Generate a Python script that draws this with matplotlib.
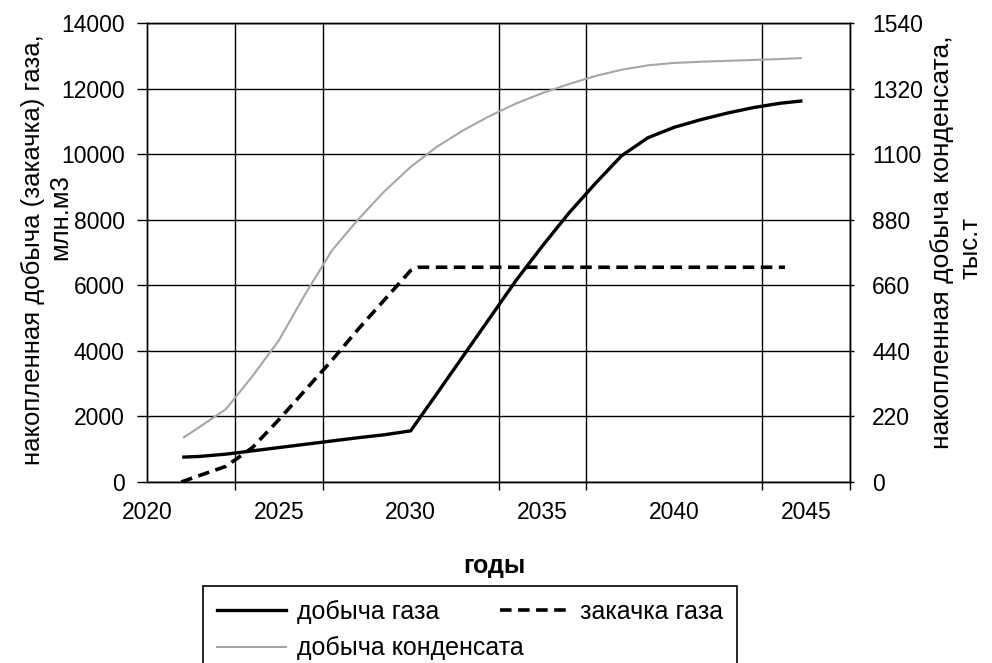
import matplotlib
matplotlib.use("Agg")
import matplotlib.pyplot as plt
import numpy as np

plt.rcParams['font.family'] = ['Liberation Sans', 'DejaVu Sans']

# добыча газа, млн.м3 (left axis)
gas_years = [2021.4, 2022, 2023, 2024, 2025, 2026, 2027, 2028, 2029, 2030,
             2031, 2032, 2033, 2034, 2035, 2036, 2037, 2038, 2039, 2040,
             2041, 2042, 2043, 2044, 2044.8]
gas_prod = [760, 780, 850, 950, 1050, 1150, 1250, 1350, 1440, 1560,
            2700, 3850, 5000, 6150, 7200, 8200, 9100, 9950, 10500, 10820,
            11050, 11250, 11420, 11550, 11620]

# закачка газа, млн.м3 (left axis)
inj_years = [2021.3, 2022, 2023, 2024, 2025, 2026, 2027, 2028, 2029, 2030,
             2030.3, 2032, 2034, 2036, 2038, 2040, 2042, 2044.2]
gas_inj = [0, 200, 480, 1050, 1900, 2800, 3700, 4650, 5550, 6450,
           6550, 6550, 6550, 6550, 6550, 6550, 6550, 6550]

# добыча конденсата, тыс.т (right axis)
cond_years = [2021.4, 2022, 2023, 2024, 2025, 2026, 2027, 2028, 2029, 2030,
              2031, 2032, 2033, 2034, 2035, 2036, 2037, 2038, 2039, 2040,
              2041, 2042, 2043, 2044, 2044.8]
cond_prod = [150, 185, 245, 355, 475, 630, 775, 880, 975, 1057,
             1125, 1180, 1228, 1270, 1305, 1335, 1362, 1383, 1398, 1406,
             1410, 1413, 1416, 1419, 1422]

x_labels = [2020, 2025, 2030, 2035, 2040, 2045]
left_ticks = np.arange(0, 14001, 2000)
right_ticks = np.arange(0, 1541, 220)


def run():
    fig = plt.figure(figsize=(9.92, 6.63), dpi=100)
    ax = fig.add_axes([147/992, 1 - 482/663, 703/992, 459/663])
    ax2 = ax.twinx()

    l1, = ax.plot(gas_years, gas_prod, color='black', lw=2.4, label='добыча газа')
    l2, = ax.plot(inj_years, gas_inj, color='black', lw=2.6, ls=(0, (3.2, 1.8)),
                  label='закачка газа')
    l3, = ax2.plot(cond_years, cond_prod, color='#a6a6a6', lw=1.5,
                   label='добыча конденсата')

    x0 = 2020
    x1 = 2020 + 80 / 3
    ax.set_xlim(x0, x1)
    ax.set_ylim(0, 14000)
    ax2.set_ylim(0, 1540)

    ax.set_xticks(x_labels)
    ax.set_xticklabels([str(v) for v in x_labels])
    ax.set_xticks(2020 + np.arange(9) * 10 / 3, minor=True)
    ax.tick_params(axis='x', which='major', length=0, pad=14, labelsize=16.5)
    ax.tick_params(axis='x', which='minor', length=6, width=1, direction='out', color='black')
    ax.grid(axis='x', which='minor', color='black', lw=1)

    ax.set_yticks(left_ticks)
    ax.tick_params(axis='y', length=7, width=1, pad=9, labelsize=16.5)
    ax.grid(axis='y', which='major', color='black', lw=1)

    ax2.set_yticks(right_ticks)
    ax2.tick_params(axis='y', length=3, width=1, pad=13, labelsize=16.5)

    for sp in list(ax.spines.values()) + list(ax2.spines.values()):
        sp.set_color('black')
        sp.set_linewidth(1)

    fig.text(33/992, 1 - 250/663, 'накопленная добыча (закачка) газа,', rotation=90,
             ha='center', va='center', fontsize=18.5)
    fig.text(60/992, 1 - 217/663, 'млн.м3', rotation=90,
             ha='center', va='center', fontsize=18.5)
    fig.text(942/992, 1 - 242/663, 'накопленная добыча конденсата,', rotation=90,
             ha='center', va='center', fontsize=19)
    fig.text(970/992, 1 - 248/663, 'тыс.т', rotation=90,
             ha='center', va='center', fontsize=18.5)

    fig.text(494/992, 1 - 566/663, 'годы', ha='center', va='center',
             fontsize=18, fontweight='bold')

    leg = fig.legend([l1, l3, l2], [l1.get_label(), l3.get_label(), l2.get_label()],
                     loc='upper left', bbox_to_anchor=(203/992, 1 - 586/663 - 0.01, 534/992, 0.01),
                     mode='expand', ncol=2, fontsize=18, frameon=True, fancybox=False,
                     edgecolor='black', framealpha=1, handlelength=2.75, handletextpad=0.45,
                     labelspacing=0.5, borderpad=0.55, borderaxespad=0)
    leg.get_frame().set_linewidth(1.2)

    fig.savefig('out.png', dpi=100)


if __name__ == "__main__":
    run()
